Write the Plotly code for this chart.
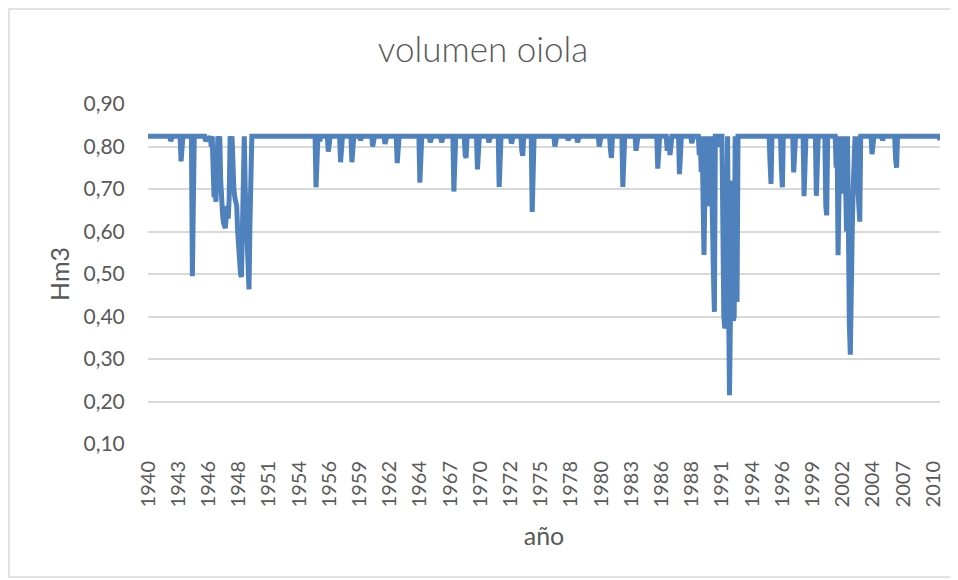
import plotly.graph_objects as go

# Monthly reservoir volume (Hm3), hydrological months starting Oct 1940 (840 months)
n_months = 840
full_level = 0.824

# Months (index from Oct 1940) where the volume dropped below full, and the value
dip_month = [24, 35, 47, 61, 64,
             67, 69, 70, 71, 72, 73, 74, 75, 77, 78, 79, 80, 81, 82, 83, 84, 85, 86, 87, 88,
             90, 91, 92, 93, 94, 95, 96, 97, 98, 99, 100, 101, 102, 103, 104, 105, 106, 107, 108, 109,
             178, 182, 191, 204, 216, 225, 238, 251, 264, 288, 299, 311, 324, 336, 337, 349,
             361, 372, 385, 396, 397, 407,
             431, 445, 455, 478, 490, 491, 503, 517, 540, 550, 553, 563, 576,
             584, 585, 586, 587, 588, 589, 590, 591, 592, 593, 594, 595, 596, 597, 598, 599, 600, 601,
             605, 608, 609, 610, 611, 612, 613, 614, 615, 616, 617, 618, 619, 620, 621, 622, 623, 624,
             659, 660, 671, 672, 684, 695, 708, 718, 719,
             729, 731, 732, 734, 735, 736, 737, 739, 740, 742, 743, 744, 745, 746, 747,
             749, 750, 751, 752, 753, 754, 767, 778, 792, 793, 839]
dip_value = [0.813, 0.765, 0.495, 0.812, 0.815,
             0.80, 0.75, 0.68, 0.70, 0.67, 0.75, 0.824, 0.80, 0.72, 0.66, 0.64, 0.62, 0.61, 0.608, 0.64, 0.66, 0.63, 0.68, 0.824, 0.81,
             0.72, 0.70, 0.68, 0.67, 0.66, 0.60, 0.55, 0.51, 0.50, 0.493, 0.58, 0.65, 0.824, 0.70, 0.62, 0.56, 0.50, 0.464, 0.62, 0.824,
             0.704, 0.812, 0.788, 0.763, 0.763, 0.815, 0.80, 0.806, 0.761, 0.715, 0.81, 0.81, 0.694, 0.78, 0.773, 0.746,
             0.81, 0.705, 0.807, 0.79, 0.778, 0.646,
             0.80, 0.815, 0.81, 0.80, 0.79, 0.773, 0.705, 0.79, 0.748, 0.79, 0.78, 0.735, 0.808,
             0.78, 0.824, 0.74, 0.824, 0.68, 0.545, 0.70, 0.824, 0.66, 0.824, 0.70, 0.66, 0.824, 0.75, 0.62, 0.50, 0.411, 0.824,
             0.80, 0.824, 0.55, 0.40, 0.372, 0.38, 0.60, 0.824, 0.45, 0.215, 0.40, 0.72, 0.50, 0.39, 0.40, 0.824, 0.55, 0.434,
             0.76, 0.712, 0.75, 0.704, 0.739, 0.683, 0.684, 0.66, 0.638,
             0.75, 0.544, 0.70, 0.75, 0.824, 0.70, 0.69, 0.70, 0.60, 0.45, 0.38, 0.31, 0.40, 0.60, 0.70,
             0.824, 0.78, 0.824, 0.70, 0.65, 0.623, 0.782, 0.815, 0.77, 0.75, 0.815]

tick_month = [0, 32, 64, 96, 128, 160, 192, 224, 256, 288, 320, 352, 384, 416,
              448, 480, 512, 544, 576, 608, 640, 672, 704, 736, 768, 800, 832]
tick_labels = ["1940", "1943", "1946", "1948", "1951", "1954", "1956", "1959", "1962",
               "1964", "1967", "1970", "1972", "1975", "1978", "1980", "1983", "1986",
               "1988", "1991", "1994", "1996", "1999", "2002", "2004", "2007", "2010"]

y_ticks = [0.10, 0.20, 0.30, 0.40, 0.50, 0.60, 0.70, 0.80, 0.90]
y_tick_labels = ["0,10", "0,20", "0,30", "0,40", "0,50", "0,60", "0,70", "0,80", "0,90"]

volume = [full_level] * n_months
for m, v in zip(dip_month, dip_value):
    volume[m] = v
months = list(range(n_months))

FONT = "Lato, 'Open Sans', sans-serif"
GREY = "#595959"

# the page body adds an 8px offset; the figure is sized so the plot area lands at 148..940 x 104..444
L, T, R, B = 140, 96, 18, 136
W, H = 950, 572
pw, ph = W - L - R, H - T - B

fig = go.Figure()
fig.add_trace(go.Scatter(x=months, y=volume, mode="lines",
                         line=dict(color="#4F81BD", width=5),
                         hoverinfo="skip", showlegend=False))

fig.update_layout(
    width=W, height=H,
    margin=dict(l=L, r=R, t=T, b=B),
    paper_bgcolor="white", plot_bgcolor="white",
    title=dict(text="volumen oiola", x=0.5, xanchor="center", y=1 - (50 - 8) / H, yanchor="middle",
               font=dict(family=FONT, size=35, color=GREY, weight=300)),
    font=dict(family=FONT, color=GREY),
    xaxis=dict(range=[0, n_months - 1], tickmode="array", tickvals=tick_month, ticktext=tick_labels,
               tickangle=-90, tickfont=dict(size=20, color=GREY), showgrid=False, zeroline=False,
               showline=False, ticks="outside", ticklen=8, tickcolor="rgba(0,0,0,0)",
               title=dict(text="año", font=dict(size=25, color=GREY), standoff=21)),
    yaxis=dict(range=[0.1, 0.9], tickmode="array", tickvals=y_ticks, ticktext=y_tick_labels,
               tickfont=dict(size=21, color=GREY), showgrid=True, gridcolor="#D9D9D9", gridwidth=2,
               zeroline=False, showline=False, ticks="outside", ticklen=18, tickcolor="rgba(0,0,0,0)",
               title=dict(text="Hm3", font=dict(size=25, color=GREY), standoff=6)),
    shapes=[dict(type="rect", xref="paper", yref="paper",
                 x0=(9 - 148) / pw, x1=(954 - 148) / pw,
                 y0=(444 - 577) / ph, y1=(444 - 9) / ph,
                 line=dict(color="#D9D9D9", width=1.5), fillcolor="rgba(0,0,0,0)", layer="below")],
)

fig.write_html("out.html")
